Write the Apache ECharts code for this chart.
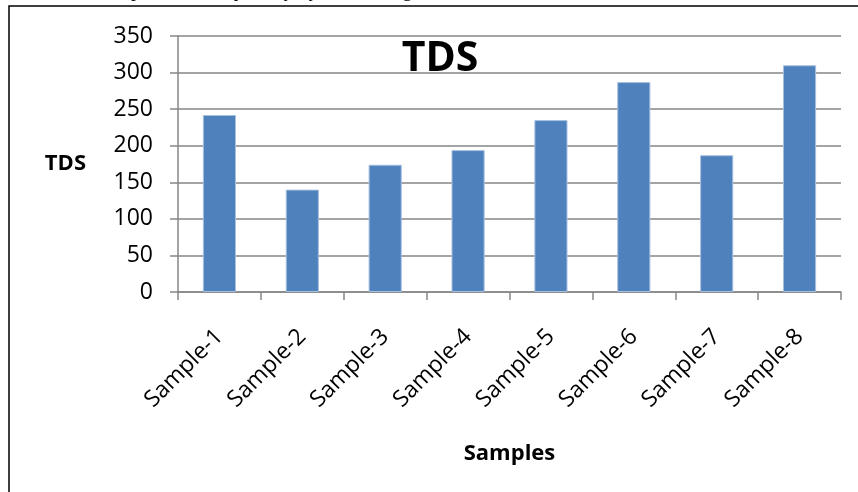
<!DOCTYPE html>
<html>
<head>
<meta charset="utf-8">
<script src="https://cdn.jsdelivr.net/npm/echarts@6/dist/echarts.min.js"></script>
<style>
  html, body { margin: 0; padding: 0; background: #ffffff; }
  #chart { width: 858px; height: 492px; }
</style>
</head>
<body>
<div id="chart"></div>
<script>
// TDS per water sample
const categories = ['Sample-1', 'Sample-2', 'Sample-3', 'Sample-4', 'Sample-5', 'Sample-6', 'Sample-7', 'Sample-8'];
const tdsValues = [242, 140, 174, 194, 235, 287, 187, 310];
const yTicks = [0, 50, 100, 150, 200, 250, 300, 350];

const font = '"Open Sans", "Noto Sans", sans-serif';
const gridGray = '#868686';

const chart = echarts.init(document.getElementById('chart'), null, { renderer: 'canvas' });

chart.setOption({
  animation: false,
  backgroundColor: '#ffffff',
  title: {
    text: 'TDS',
    left: 435,
    top: 34,
    textAlign: 'center',
    textStyle: { fontFamily: font, fontWeight: 'bold', fontSize: 41, color: '#000000' }
  },
  grid: { left: 178, right: 17, top: 36, bottom: 200, containLabel: false },
  xAxis: {
    type: 'category',
    data: categories,
    name: 'Samples',
    nameLocation: 'middle',
    nameGap: 151,
    nameTextStyle: { fontFamily: font, fontWeight: 'bold', fontSize: 22, color: '#000000' },
    axisLine: { show: true, lineStyle: { color: gridGray, width: 1.5 } },
    axisTick: { show: true, length: 8, alignWithLabel: false, lineStyle: { color: gridGray, width: 1.5 } },
    axisLabel: {
      rotate: 45,
      margin: 41,
      interval: 0,
      fontFamily: font,
      fontSize: 23,
      color: '#000000'
    }
  },
  yAxis: {
    type: 'value',
    min: yTicks[0],
    max: yTicks[yTicks.length - 1],
    interval: 50,
    name: 'TDS',
    nameLocation: 'middle',
    nameRotate: 0,
    nameGap: 92,
    nameTextStyle: { fontFamily: font, fontWeight: 'bold', fontSize: 22, color: '#000000' },
    axisLine: { show: true, lineStyle: { color: gridGray, width: 1.5 } },
    axisTick: { show: true, length: 8, lineStyle: { color: gridGray, width: 1.5 } },
    axisLabel: { margin: 25, fontFamily: font, fontSize: 23, color: '#000000' },
    splitLine: { show: true, lineStyle: { color: gridGray, width: 1.5 } }
  },
  series: [{
    type: 'bar',
    data: tdsValues,
    barWidth: '40%',
    itemStyle: { color: '#4F81BD', borderColor: '#A7C0E0', borderWidth: 1 }
  }],
  graphic: [
    {
      type: 'rect',
      shape: { x: 9, y: 6, width: 900, height: 600 },
      style: { fill: 'none', stroke: '#000000', lineWidth: 1.5 },
      z: 10
    },
    {
      type: 'text',
      left: 0,
      top: -19,
      style: {
        text: 'ould and it with permissible quantity by CGCW signal',
        fontFamily: '"Liberation Serif", serif',
        fontSize: 20,
        fill: '#000000'
      },
      z: 10
    }
  ]
});
</script>
</body>
</html>
